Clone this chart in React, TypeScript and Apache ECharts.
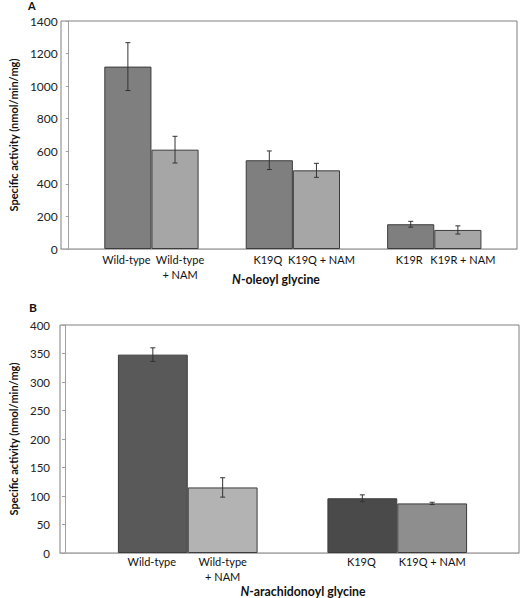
import React, { useEffect, useRef } from "react";
import * as echarts from "echarts";

// ---------- Data ----------
const topCategories = ["Wild-type", "K19Q", "K19R"];
const topDarkNames = ["Wild-type", "K19Q", "K19R"];
const topLightNames = ["Wild-type\n+ NAM", "K19Q + NAM", "K19R + NAM"];
const topDarkValues = [1120, 545, 152];
const topDarkErrors = [147, 57, 18];
const topLightValues = [610, 483, 117];
const topLightErrors = [82, 43, 25];

const botCategories = ["Wild-type", "K19Q"];
const botDarkNames = ["Wild-type", "K19Q"];
const botLightNames = ["Wild-type\n+ NAM", "K19Q + NAM"];
const botDarkValues = [348, 96];
const botDarkErrors = [12, 6];
const botLightValues = [115, 87];
const botLightErrors = [17, 2];
const botDarkColors = ["#595959", "#4a4a4a"];
const botLightColors = ["#b3b3b3", "#8e8e8e"];

const FONT = "Lato, 'Noto Sans', sans-serif";

function errData(values: number[], errs: number[], side: number) {
  return values.map((v, i) => [i, v - errs[i], v + errs[i], side]);
}

function errorSeries(xi: number, data: number[][]) {
  return {
    type: "custom",
    xAxisIndex: xi,
    yAxisIndex: xi,
    z: 10,
    encode: { x: 0, y: [1, 2] },
    data,
    renderItem: (params: any, api: any) => {
      const cat = api.value(0);
      const lo = api.coord([cat, api.value(1)]);
      const hi = api.coord([cat, api.value(2)]);
      const band = api.size([1, 0])[0];
      const x = lo[0] + (api.value(3) === 0 ? -1 : 1) * (band / 6);
      const cap = 2.5;
      const style = { stroke: "#333", lineWidth: 1 };
      return {
        type: "group",
        children: [
          { type: "line", shape: { x1: x, y1: lo[1], x2: x, y2: hi[1] }, style },
          { type: "line", shape: { x1: x - cap, y1: lo[1], x2: x + cap, y2: lo[1] }, style },
          { type: "line", shape: { x1: x - cap, y1: hi[1], x2: x + cap, y2: hi[1] }, style },
        ],
      };
    },
  };
}

function barSeries(
  xi: number,
  values: number[],
  names: string[],
  colors: string[],
  dist: number,
  dx: number
) {
  return {
    type: "bar",
    xAxisIndex: xi,
    yAxisIndex: xi,
    barGap: 0,
    barCategoryGap: "33.33%",
    data: values.map((v, i) => ({
      value: v,
      itemStyle: { color: colors[i % colors.length] },
    })),
    itemStyle: { borderColor: "#3c3c3c", borderWidth: 1 },
    label: {
      show: true,
      position: "bottom",
      distance: dist,
      offset: [dx, 0],
      formatter: (p: any) => names[p.dataIndex],
      fontFamily: FONT,
      fontSize: 11,
      lineHeight: 15,
      color: "#111",
      align: "center",
    },
  };
}

function frameAxes(gi: number) {
  return {
    x: {
      gridIndex: gi,
      type: "value",
      min: 0,
      max: 1,
      z: 5,
      axisLine: { show: true, onZero: false, lineStyle: { color: "#b0b0b0", width: 1 } },
      axisTick: { show: false },
      axisLabel: { show: false },
      splitLine: { show: false },
    },
    y: { gridIndex: gi, type: "value", min: 0, max: 1, show: false },
  };
}

function dataY(
  gi: number,
  max: number,
  interval: number,
  offset: number,
  margin: number,
  gap: number,
  fs: number
) {
  return {
    gridIndex: gi,
    type: "value",
    min: 0,
    max,
    interval,
    offset,
    z: 5,
    name: "Specific activity (nmol/min/mg)",
    nameLocation: "middle",
    nameGap: gap,
    nameTextStyle: { fontFamily: FONT, fontWeight: "bold", fontSize: 11, color: "#111" },
    axisLine: { show: true, lineStyle: { color: "#a0a0a0", width: 1 } },
    axisTick: { show: true, length: 3, lineStyle: { color: "#a0a0a0" } },
    axisLabel: {
      margin,
      fontFamily: FONT,
      fontSize: fs,
      color: "#222",
      formatter: (v: number) => String(v),
    },
    splitLine: { show: false },
  };
}

function dataX(gi: number, cats: string[]) {
  return {
    gridIndex: gi,
    type: "category",
    data: cats,
    axisLine: { show: false },
    axisTick: { show: false },
    axisLabel: { show: false },
    splitLine: { show: false },
  };
}

export default function App() {
  const ref = useRef<HTMLDivElement>(null);

  useEffect(() => {
    if (!ref.current) return;
    const chart = echarts.init(ref.current, undefined, { renderer: "svg" });
    const fTop = frameAxes(0);
    const fBot = frameAxes(2);
    chart.setOption({
      animation: false,
      backgroundColor: "#ffffff",
      grid: [
        { left: 61, top: 21, width: 456, height: 228, show: true, borderColor: "#808080", borderWidth: 1, backgroundColor: "transparent" },
        { left: 73, top: 21, width: 432, height: 228 },
        { left: 60, top: 325, width: 459, height: 228, show: true, borderColor: "#808080", borderWidth: 1, backgroundColor: "transparent" },
        { left: 78, top: 325, width: 424, height: 228 },
      ],
      xAxis: [fTop.x, dataX(1, topCategories), fBot.x, dataX(3, botCategories)],
      yAxis: [
        fTop.y,
        dataY(1, 1400, 200, 12, 11, 47, 12),
        fBot.y,
        dataY(3, 400, 50, 18, 15, 46, 11.5),
      ],
      series: [
        barSeries(1, topDarkValues, topDarkNames, ["#7f7f7f"], 3, -1.5),
        barSeries(1, topLightValues, topLightNames, ["#a6a6a6"], 3, 5),
        errorSeries(1, errData(topDarkValues, topDarkErrors, 0)),
        errorSeries(1, errData(topLightValues, topLightErrors, 1)),
        barSeries(3, botDarkValues, botDarkNames, botDarkColors, 1, -1),
        barSeries(3, botLightValues, botLightNames, botLightColors, 1, 0),
        errorSeries(3, errData(botDarkValues, botDarkErrors, 0)),
        errorSeries(3, errData(botLightValues, botLightErrors, 1)),
      ],
      graphic: [
        { type: "text", left: 28, top: 0, style: { text: "A", fontFamily: FONT, fontWeight: "bold", fontSize: 11, fill: "#111" } },
        { type: "text", left: 29, top: 301, style: { text: "B", fontFamily: FONT, fontWeight: "bold", fontSize: 12, fill: "#111" } },
        {
          type: "text",
          x: 276,
          y: 279,
          style: {
            text: "{i|N}{b|-oleoyl glycine}",
            align: "center",
            verticalAlign: "middle",
            rich: {
              i: { fontFamily: FONT, fontWeight: "bold", fontStyle: "italic", fontSize: 12.3, fill: "#111" },
              b: { fontFamily: FONT, fontWeight: "bold", fontSize: 12.3, fill: "#111" },
            },
          },
        },
        {
          type: "text",
          x: 303,
          y: 591,
          style: {
            text: "{i|N}{b|-arachidonoyl glycine}",
            align: "center",
            verticalAlign: "middle",
            rich: {
              i: { fontFamily: FONT, fontWeight: "bold", fontStyle: "italic", fontSize: 12.3, fill: "#111" },
              b: { fontFamily: FONT, fontWeight: "bold", fontSize: 12.3, fill: "#111" },
            },
          },
        },
      ],
    });
    return () => chart.dispose();
  }, []);

  return (
    <div
      ref={ref}
      style={{ position: "fixed", left: 0, top: 0, width: 520, height: 598, background: "#fff" }}
    />
  );
}
